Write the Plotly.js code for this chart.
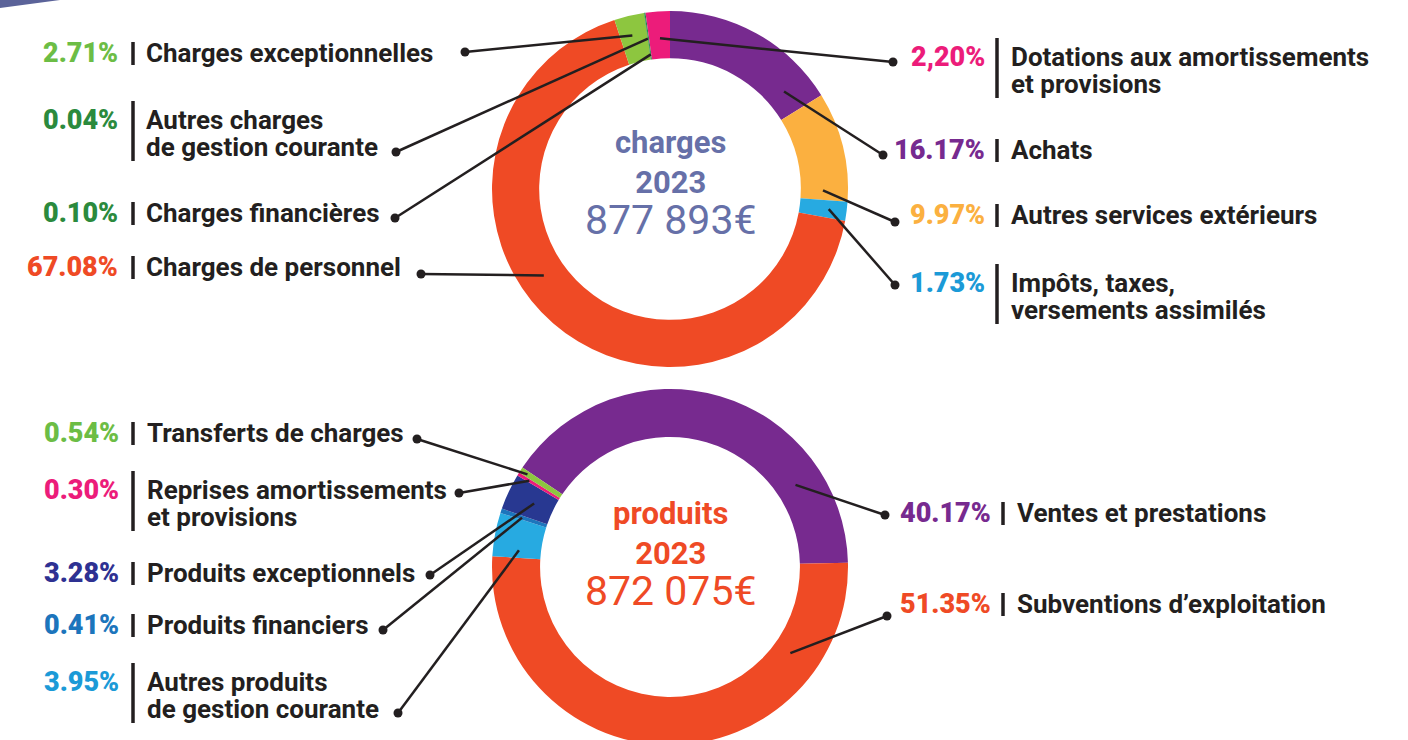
<!DOCTYPE html>
<html><head><meta charset="utf-8">
<script src="https://cdn.plot.ly/plotly-3.0.1.min.js"></script>
<style>html,body{margin:0;padding:0;background:#fff;overflow:hidden}#chart{width:1408px;height:760px}</style>
</head><body><div id="chart"></div>
<script>
// ---------- DATA ----------
const chargesLabels = ['Achats', 'Autres services extérieurs', 'Impôts, taxes,<br>versements assimilés', 'Charges de personnel', 'Charges exceptionnelles', 'Autres charges<br>de gestion courante', 'Charges financières', 'Dotations aux amortissements<br>et provisions'];
const chargesValues = [16.17, 9.97, 1.73, 67.08, 2.71, 0.04, 0.10, 2.20];
const chargesPctText = ['16.17%', '9.97%', '1.73%', '67.08%', '2.71%', '0.04%', '0.10%', '2,20%'];
const chargesCenter = ['charges', '2023', '877 893€'];

const produitsLabels = ['Ventes et prestations', 'Subventions d’exploitation', 'Autres produits<br>de gestion courante', 'Produits financiers', 'Produits exceptionnels', 'Reprises amortissements<br>et provisions', 'Transferts de charges'];
const produitsValues = [40.17, 51.35, 3.95, 0.41, 3.28, 0.30, 0.54];
const produitsPctText = ['40.17%', '51.35%', '3.95%', '0.41%', '3.28%', '0.30%', '0.54%'];
const produitsCenter = ['produits', '2023', '872 075€'];

// ---------- STYLES ----------
const chargesColors = ['#772a8f', '#fbb040', '#27aae1', '#ef4a25', '#8dc63f', '#14733a', '#1d8a44', '#ec1c7a'];
const chargesPctColors = ['#772a8f', '#fbb040', '#1b9ad7', '#ef4a25', '#6cbd45', '#2b8a3d', '#2b8a3d', '#ec1c7a'];
const produitsColors = ['#772a8f', '#ef4a25', '#27aae1', '#1c75bc', '#283891', '#ec1c7a', '#8dc63f'];
const produitsPctColors = ['#772a8f', '#ef4a25', '#1b9ad7', '#1c75bc', '#2e3192', '#ec1c7a', '#6cbd45'];

// ---------- LAYOUT GEOMETRY (pixels) ----------
const W = 1408, H = 760;
const FONT = 'Roboto, "Noto Sans", sans-serif';
const INK = '#231f20';
const LBL = 26, PCT = 27, LINE_H = 27;
const donutCharges = {cx: 670, cy: 189, R: 178, hole: 0.735, rotation: 0, color: '#6670a8', textTop: 124};
const donutProduits = {cx: 670, cy: 567, R: 178, hole: 0.73, rotation: -56, color: '#ef4a25', textTop: 495};
const cols = {
  TL: {pctRight: 118, bar: 133, text: 146},
  TR: {pctRight: 985, bar: 997, text: 1011},
  BL: {pctRight: 119, bar: 133, text: 147},
  BR: {pctRight: 991, bar: 1003, text: 1017}
};
const chargesPlace = [
  {col: 'TR', y: 150, dot: [883, 155], t: 0.85, r: 150},
  {col: 'TR', y: 215, dot: [895, 222], t: 0.9, r: 153},
  {col: 'TR', y: 283, dot: [895, 285], t: 0.5, r: 160},
  {col: 'TL', y: 267, dot: [421, 274], t: 0.56, r: 153},
  {col: 'TL', y: 53, dot: [465, 52], t: 0.45, r: 158},
  {col: 'TL', y: 120, dot: [396, 152], t: 0.5, r: 152},
  {col: 'TL', y: 213, dot: [395, 218], t: 0.5, r: 136},
  {col: 'TR', y: 57, dot: [893, 62], t: 0.52, r: 151}
];
const produitsPlace = [
  {col: 'BR', y: 513, dot: [885, 515], t: 0.78, r: 150},
  {col: 'BR', y: 604, dot: [887, 616], t: 0.2, r: 148},
  {col: 'BL', y: 682, dot: [398, 713], t: 0.2, r: 152},
  {col: 'BL', y: 625, dot: [383, 630], t: 0.5, r: 156},
  {col: 'BL', y: 573, dot: [430, 575], t: 0.5, r: 150},
  {col: 'BL', y: 490, dot: [459, 493], t: 0.5, r: 165},
  {col: 'BL', y: 433, dot: [417, 439], t: 0.5, r: 170}
];

const px = x => x / W;
const py = y => 1 - y / H;

function pieTrace(labels, values, colors, d) {
  return {
    type: 'pie', labels: labels, values: values, sort: false, direction: 'clockwise',
    rotation: d.rotation, hole: d.hole, textinfo: 'none', hoverinfo: 'none',
    marker: {colors: colors, line: {width: 0}}, showlegend: false,
    domain: {x: [px(d.cx - d.R), px(d.cx + d.R)], y: [py(d.cy + d.R), py(d.cy - d.R)]}
  };
}

const annotations = [];
const shapes = [];

function addDonutLabels(labels, values, pctText, pctColors, place, d) {
  const total = values.reduce((a, b) => a + b, 0);
  let cum = 0;
  values.forEach((v, i) => {
    const p = place[i];
    const c = cols[p.col];
    const ang = (d.rotation + 360 * (cum + p.t * v) / total) * Math.PI / 180;
    cum += v;
    const ax = d.cx + p.r * Math.sin(ang), ay = d.cy - p.r * Math.cos(ang);
    const lines = labels[i].split('<br>');
    annotations.push({x: px(c.pctRight), y: py(p.y), xref: 'paper', yref: 'paper', xanchor: 'right', yanchor: 'middle',
      text: pctText[i], showarrow: false, borderpad: 0, borderwidth: 0,
      font: {family: FONT, size: PCT, color: pctColors[i], weight: 900}});
    // label: one text, tight leading (line spacing = 1.3 x base size)
    const multi = lines.length > 1;
    annotations.push({x: px(c.text), y: py(multi ? p.y - 15 : p.y), xref: 'paper', yref: 'paper', xanchor: 'left',
      yanchor: multi ? 'top' : 'middle', align: 'left',
      text: lines.map(l => `<span style="font-size:${LBL}px">${l}</span>`).join('<br>'),
      showarrow: false, borderpad: 0, borderwidth: 0,
      font: {family: FONT, size: LINE_H / 1.3, color: INK, weight: 700}});
    const y0 = multi ? p.y - 19 : p.y - 11;
    const y1 = multi ? p.y + LINE_H + 14 : p.y + 12;
    shapes.push({type: 'line', xref: 'paper', yref: 'paper', x0: px(c.bar), x1: px(c.bar), y0: py(y0), y1: py(y1),
      line: {color: INK, width: 3.5}});
    shapes.push({type: 'line', xref: 'paper', yref: 'paper', x0: px(p.dot[0]), y0: py(p.dot[1]), x1: px(ax), y1: py(ay),
      line: {color: INK, width: 2.5}});
    const rd = 4.5;
    shapes.push({type: 'circle', xref: 'paper', yref: 'paper', x0: px(p.dot[0] - rd), x1: px(p.dot[0] + rd),
      y0: py(p.dot[1] + rd), y1: py(p.dot[1] - rd), fillcolor: INK, line: {width: 0}});
  });
}

function addCenter(textLines, d) {
  const txt = `<b>${textLines[0]}</b><br><b>${textLines[1]}</b><br><span style="font-size:41px">${textLines[2]}</span>`;
  annotations.push({x: px(d.cx), y: py(d.textTop), xref: 'paper', yref: 'paper', xanchor: 'center', yanchor: 'top',
    align: 'center', text: txt, showarrow: false, borderpad: 0, borderwidth: 0,
    font: {family: FONT, size: 31, color: d.color, weight: 400}});
}

addDonutLabels(chargesLabels, chargesValues, chargesPctText, chargesPctColors, chargesPlace, donutCharges);
addDonutLabels(produitsLabels, produitsValues, produitsPctText, produitsPctColors, produitsPlace, donutProduits);
addCenter(chargesCenter, donutCharges);
addCenter(produitsCenter, donutProduits);

// decorative corner wedge
shapes.push({type: 'path', xref: 'paper', yref: 'paper',
  path: `M 0 1 L ${px(60)} 1 L 0 ${py(8)} Z`, fillcolor: '#5b6399', line: {width: 0}});

const layout = {
  width: W, height: H, margin: {l: 0, r: 0, t: 0, b: 0},
  paper_bgcolor: '#ffffff', plot_bgcolor: '#ffffff',
  annotations: annotations, shapes: shapes, showlegend: false
};

Plotly.newPlot('chart', [
  pieTrace(chargesLabels, chargesValues, chargesColors, donutCharges),
  pieTrace(produitsLabels, produitsValues, produitsColors, donutProduits)
], layout, {staticPlot: true, displayModeBar: false});
</script>
</body></html>
